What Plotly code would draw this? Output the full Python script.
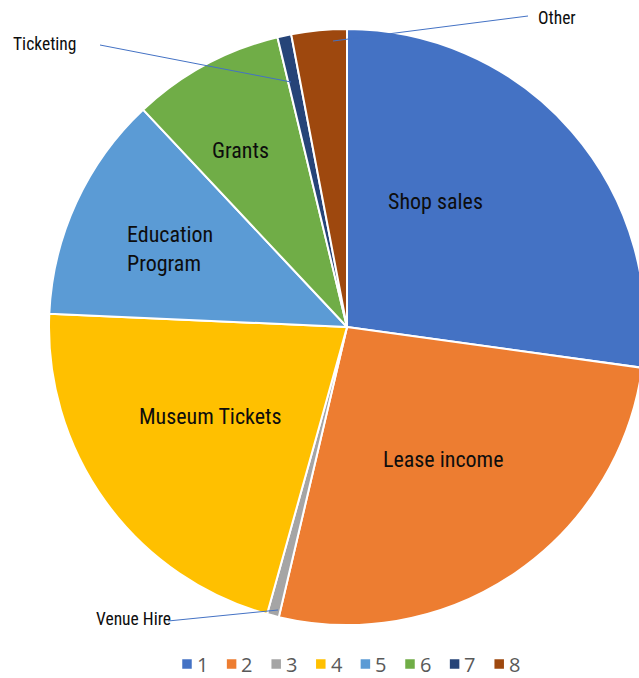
import plotly.graph_objects as go

# Revenue breakdown (percent of total)
categories = ["1", "2", "3", "4", "5", "6", "7", "8"]
names = ["Shop sales", "Lease income", "Venue Hire", "Museum Tickets",
         "Education<br>Program", "Grants", "Ticketing", "Other"]
shares = [27.2, 26.5, 0.65, 21.4, 12.3, 8.25, 0.75, 3.0]
colors = ["#4472C4", "#ED7D31", "#A5A5A5", "#FFC000",
          "#5B9BD5", "#70AD47", "#264478", "#9E480E"]

W, H = 700, 678
CX, CY, R = 347, 327, 298


def px(x):
    return x / W


def py(y):
    return 1 - y / H


fig = go.Figure(go.Pie(
    labels=categories,
    values=shares,
    sort=False,
    direction="clockwise",
    rotation=0,
    marker=dict(colors=colors, line=dict(color="white", width=2)),
    textinfo="none",
    hoverinfo="label+percent",
    domain=dict(x=[px(CX - R), px(CX + R)], y=[py(CY + R), py(CY - R)]),
    showlegend=False,
))

label_font = "Liberation Sans Narrow, Arial Narrow, Roboto Condensed, sans-serif"

# in-slice labels (pixel anchor positions)
inside = {
    "Shop sales": (435, 201),
    "Lease income": (443, 459),
    "Museum Tickets": (210, 417),
    "Education<br>Program": (125, 249),
    "Grants": (240, 150),
}
annotations = []
for name in names:
    if name in inside:
        x, y = inside[name]
        left = name.startswith("Education")
        annotations.append(dict(
            x=px(x), y=py(y), xref="paper", yref="paper",
            text=name, showarrow=False,
            xanchor="left" if left else "center", yanchor="middle",
            align="left",
            font=dict(family=label_font, size=22, color="#0d0d0d"),
        ))

# outside labels with leader lines
outside = {
    "Ticketing": ((45, 44), (100, 45), (291, 82)),
    "Other": ((557, 18), (528, 16), (333, 41)),
    "Venue Hire": ((133, 619), (168, 621), (278, 610)),
}
shapes = []
for name, ((tx, ty), (x0, y0), (x1, y1)) in outside.items():
    annotations.append(dict(
        x=px(tx), y=py(ty), xref="paper", yref="paper",
        text=name, showarrow=False, xanchor="center", yanchor="middle",
        font=dict(family=label_font, size=17.5, color="#0d0d0d"),
    ))
    shapes.append(dict(
        type="line", xref="paper", yref="paper",
        x0=px(x0), y0=py(y0), x1=px(x1), y1=py(y1),
        line=dict(color="#4472C4", width=1),
    ))

# legend row built from the category list
LEG_X0, LEG_STEP, LEG_Y, SQ = 187, 44.6, 664, 9.5
for i, (cat, col) in enumerate(zip(categories, colors)):
    cx = LEG_X0 + i * LEG_STEP
    shapes.append(dict(
        type="rect", xref="paper", yref="paper",
        x0=px(cx - SQ / 2), x1=px(cx + SQ / 2),
        y0=py(LEG_Y + SQ / 2), y1=py(LEG_Y - SQ / 2),
        fillcolor=col, line=dict(width=0),
    ))
    annotations.append(dict(
        x=px(cx + SQ / 2 + 3), y=py(LEG_Y), xref="paper", yref="paper",
        text=cat, showarrow=False, xanchor="left", yanchor="middle",
        font=dict(family="Open Sans, sans-serif", size=20, color="#595959"),
    ))

fig.update_layout(
    width=W, height=H,
    margin=dict(l=0, r=0, t=0, b=0),
    paper_bgcolor="white",
    plot_bgcolor="white",
    annotations=annotations,
    shapes=shapes,
)

fig.write_html(
    "out.html",
    post_script="document.documentElement.style.overflow='hidden';"
                "document.body.style.overflow='hidden';document.body.style.margin='0';",
)
